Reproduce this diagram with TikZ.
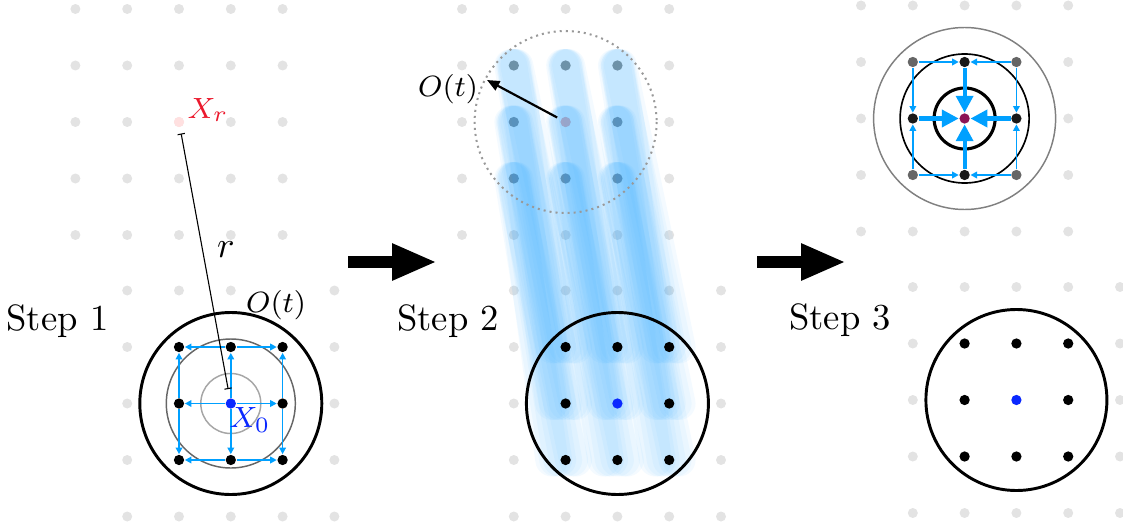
\documentclass[tikz,border=0pt]{standalone}
\usepackage{amsmath}
\usepackage{amssymb}
\usepackage{tikz}
\usetikzlibrary{arrows.meta}

\definecolor{flow}{RGB}{0,160,255}
\definecolor{haze}{RGB}{40,165,255}
\definecolor{xred}{RGB}{235,25,45}
\definecolor{xblue}{RGB}{10,40,255}
\definecolor{sink}{RGB}{140,20,85}

\tikzset{
  griddot/.style={fill=black!11},
  ball/.style={circle, inner sep=0pt, minimum size=2.8pt, fill=#1},
  ball/.default=black,
  lbl/.style={inner sep=1pt, font=\footnotesize},
  spread/.style={draw=flow, line width=0.45pt, -{Triangle[length=1.8pt,width=1.8pt]}},
  pull/.style={draw=flow, line width=1.1pt, -{Triangle[length=4.6pt,width=4.6pt]}},
  streak/.style={draw=haze, line width=9pt, line cap=round, opacity=0.05},
  bigarrow/.style={line width=3.5pt, -{Triangle[length=11.7pt,width=10.3pt,line width=0pt]}},
}

\begin{document}
\begin{tikzpicture}[x=0.0096cm, y=-0.0096cm]
\useasboundingbox (0,0) rectangle (1123,527);

% grey lattice, two shifted 5x5 blocks per step
\foreach \tx/\ty in {179/122, 565.6/122, 964.6/118.5}
  \foreach \i in {-2,...,2}
    \foreach \j in {-2,...,2} {
      \fill[griddot] (\tx+51.8*\i, \ty+56.5*\j) circle (5);
      \fill[griddot] (\tx+51.8+51.8*\i, \ty+281.5+56.5*\j) circle (5);
    }

% step 2
\foreach \n/\i/\j in {lt/-1/-1, ct/0/-1, rt/1/-1, lm/-1/0, rm/1/0, lb/-1/1, cb/0/1, rb/1/1}
  \node[ball=black!45] (P-\n) at (565.6+51.8*\i, 122+56.5*\j) {};
\node[ball=red!35] (P-cm) at (565.6,122) {};
\foreach \n/\i/\j in {lt/-1/-1, ct/0/-1, rt/1/-1, lm/-1/0, cm/0/0, rm/1/0, lb/-1/1, cb/0/1, rb/1/1}
  \coordinate (B-\n) at (617.4+51.8*\i, 403.5+56.5*\j);
\foreach \n in {lt, ct, rt, lm, cm, rm, lb, cb, rb}
  \foreach \d/\e in {-3/-10, -1.5/6, 0/0, 1.5/-6, 3/10, 0/-14}
    \draw[streak] ([xshift=\d*0.27pt]P-\n.center) -- ([xshift=\e*0.27pt]B-\n);
\draw[black!40, line width=0.55pt, dash pattern=on 0.55pt off 1.1pt] (P-cm) circle (91);
\coordinate (P-rim) at (487,80);
\draw[line width=0.6pt, -{Triangle[length=3.4pt,width=2.8pt]}, shorten <=1pt] (P-cm) -- (P-rim);
\node[lbl] at (448,89) {$O(t)$};
\foreach \n in {lt, ct, rt, lm, rm, lb, cb, rb}
  \node[ball] at (B-\n) {};
\node[ball=xblue] at (B-cm) {};
\draw[line width=0.8pt] (B-cm) circle (91);

% step 1
\node[ball=red!12] (Xr) at (179,122) {};
\node[lbl, text=xred] at (208,110) {$X_r$};
\foreach \n/\i/\j in {lt/-1/-1, ct/0/-1, rt/1/-1, lm/-1/0, rm/1/0, lb/-1/1, cb/0/1, rb/1/1}
  \node[ball] (A-\n) at (230.8+51.8*\i, 403.5+56.5*\j) {};
\node[ball=xblue] (A-cm) at (230.8,403.5) {};
\node[lbl, fill=white, inner sep=1.5pt] at (276,305) {$O(t)$};
\draw[line width=0.8pt] (A-cm) circle (91);
\draw[black!60, line width=0.4pt] (A-cm) circle (64.5);
\draw[black!35, line width=0.4pt] (A-cm) circle (30);
\foreach \a/\b in {cm/ct, cm/lm, cm/rm, cm/cb, ct/lt, ct/rt, lm/lt, lm/lb, rm/rt, rm/rb, cb/lb, cb/rb}
  \draw[spread] (A-\a) -- (A-\b);
\draw[line width=0.3pt, {Bar[width=2pt]}-{Bar[width=2pt]}, shorten <=1.6pt, shorten >=2.4pt]
  (Xr) -- (A-cm) node[pos=0.45, right=0.5pt, font=\normalsize] {$r$};
\node[lbl, text=xblue] at (250,420) {$X_0$};

% step 3
\foreach \n/\i/\j in {lt/-1/-1, rt/1/-1, lb/-1/1, rb/1/1}
  \node[ball=black!60] (C-\n) at (964.6+51.8*\i, 118.5+56.5*\j) {};
\foreach \n/\i/\j in {ct/0/-1, lm/-1/0, rm/1/0, cb/0/1}
  \node[ball=black!90] (C-\n) at (964.6+51.8*\i, 118.5+56.5*\j) {};
\node[ball=sink] (C-cm) at (964.6,118.5) {};
\draw[black!50, line width=0.4pt] (C-cm) circle (91);
\draw[line width=0.45pt] (C-cm) circle (64.5);
\draw[line width=0.85pt] (C-cm) circle (30.5);
\foreach \a/\b in {lt/ct, rt/ct, lt/lm, lb/lm, rt/rm, rb/rm, lb/cb, rb/cb}
  \draw[spread] (C-\a) -- (C-\b);
\foreach \a in {ct, lm, rm, cb}
  \draw[pull] (C-\a) -- (C-cm);
\foreach \n/\i/\j in {lt/-1/-1, ct/0/-1, rt/1/-1, lm/-1/0, rm/1/0, lb/-1/1, cb/0/1, rb/1/1}
  \node[ball] (D-\n) at (1016.4+51.8*\i, 400+56.5*\j) {};
\node[ball=xblue] (D-cm) at (1016.4,400) {};
\draw[line width=0.8pt] (D-cm) circle (90.5);

% arrows between steps
\coordinate (go1) at (348,262);
\coordinate (to1) at (435,262);
\coordinate (go2) at (757,262);
\coordinate (to2) at (844,262);
\draw[bigarrow] (go1) -- (to1);
\draw[bigarrow] (go2) -- (to2);

\node (s1) at (57.5,321) {Step 1};
\node (s2) at (448,321) {Step 2};
\node (s3) at (840,320) {Step 3};
\end{tikzpicture}
\end{document}
